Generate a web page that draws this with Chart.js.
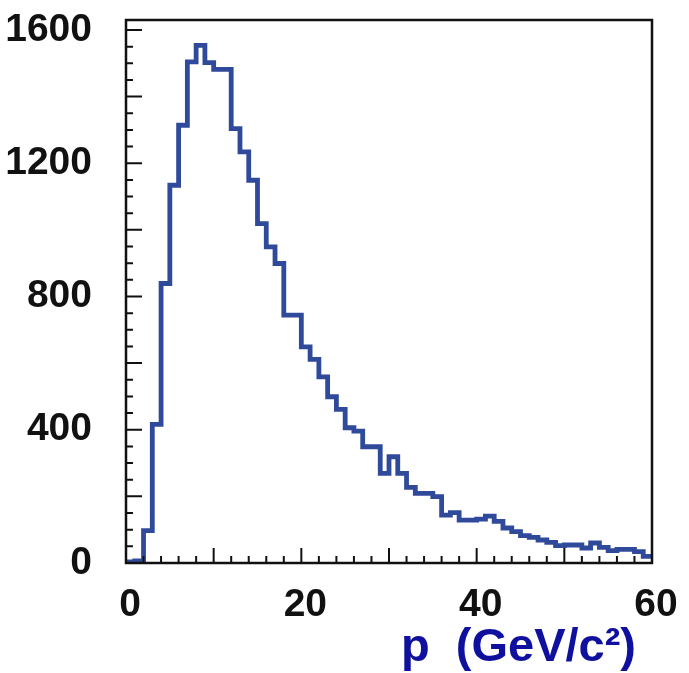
<!DOCTYPE html>
<html>
<head>
<meta charset="utf-8">
<script src="https://cdn.jsdelivr.net/npm/chart.js@4"></script>
<style>
  html, body { margin:0; padding:0; background:#fff; }
  #wrap { width:689px; height:673px; }
</style>
</head>
<body>
<div id="wrap"><canvas id="chartP" width="689" height="673"></canvas></div>
<script>
// histogram bin edges (GeV/c^2) and counts per bin
const binEdges = [0,1,2,3,4,5,6,7,8,9,10,11,12,13,14,15,16,17,18,19,20,21,22,23,24,25,26,27,28,29,
                  30,31,32,33,34,35,36,37,38,39,40,41,42,43,44,45,46,47,48,49,50,51,52,53,54,55,56,57,58,59,60];
const counts = [3,6,97,416,839,1134,1314,1504,1554,1502,1482,1482,1304,1234,1149,1019,949,899,744,744,
                649,611,559,499,461,406,396,349,349,269,319,269,227,209,209,199,144,151,129,129,
                132,141,125,105,94,82,77,69,62,52,54,54,45,60,47,37,41,41,34,20];
const yTickLabels = [0,400,800,1200,1600];
const xTickLabels = [0,20,40,60];
const xTitle = "p  (GeV/c²)";

const lineBlue = "#304a9b";
const titleBlue = "#10109e";
const tickFont = { family:"'Liberation Sans', Arial, sans-serif", size:39, weight:"bold" };

// step points: each bin value holds from its low edge to the next edge
const pts = counts.map((c,i)=>({ x: binEdges[i], y: c }));
pts.push({ x: binEdges[binEdges.length-1], y: counts[counts.length-1] });

// frame + inward ticks (ROOT style) + axis title
const frameTicks = {
  id:"frameTicks",
  afterDatasetsDraw(chart){
    const {ctx, chartArea:a, scales:{x, y}} = chart;
    ctx.save();
    ctx.strokeStyle = "#111";
    ctx.lineWidth = 2;
    ctx.beginPath();
    for(let v=0; v<=60; v+=2){
      const px = x.getPixelForValue(v);
      const len = v % 10 === 0 ? 15 : 7;
      ctx.moveTo(px, a.bottom); ctx.lineTo(px, a.bottom-len);
    }
    for(let v=0; v<=1600; v+=50){
      const py = y.getPixelForValue(v);
      const len = v % 200 === 0 ? 16 : 7;
      ctx.moveTo(a.left, py); ctx.lineTo(a.left+len, py);
    }
    ctx.stroke();
    ctx.lineWidth = 2.5;
    ctx.strokeRect(a.left, a.top, a.right-a.left, a.bottom-a.top);

    ctx.fillStyle = titleBlue;
    ctx.font = "bold 47px 'Liberation Sans', Arial, sans-serif";
    ctx.textAlign = "right";
    ctx.textBaseline = "alphabetic";
    ctx.fillText(xTitle, 636, 661);
    ctx.restore();
  }
};

new Chart(document.getElementById("chartP"), {
  type:"line",
  data:{ datasets:[{
    data: pts,
    stepped: true,
    borderColor: lineBlue,
    borderWidth: 4.8,
    pointRadius: 0,
    fill: false,
    tension: 0
  }]},
  options:{
    responsive:false,
    animation:false,
    layout:{ padding:{ top:20, right:37, left:0, bottom:0 } },
    plugins:{ legend:{display:false}, tooltip:{enabled:false} },
    scales:{
      x:{
        type:"linear", min:0, max:60,
        grid:{ display:false }, border:{ display:false },
        afterFit: s => { s.height = 110; s.paddingLeft = 0; s.paddingRight = 0; },
        afterBuildTicks: s => { s.ticks = xTickLabels.map(v=>({value:v})); },
        ticks:{ font:tickFont, color:"#111", padding:11, maxRotation:0, labelOffset:4, callback:v=>String(v) }
      },
      y:{
        type:"linear", min:0, max:1630,
        grid:{ display:false }, border:{ display:false },
        afterFit: s => { s.width = 126; s.paddingTop = 0; s.paddingBottom = 0; },
        afterBuildTicks: s => { s.ticks = yTickLabels.map(v=>({value:v})); },
        ticks:{ font:tickFont, color:"#111", padding:26, callback:v=>String(v) }
      }
    }
  },
  plugins:[frameTicks]
});
</script>
</body>
</html>
